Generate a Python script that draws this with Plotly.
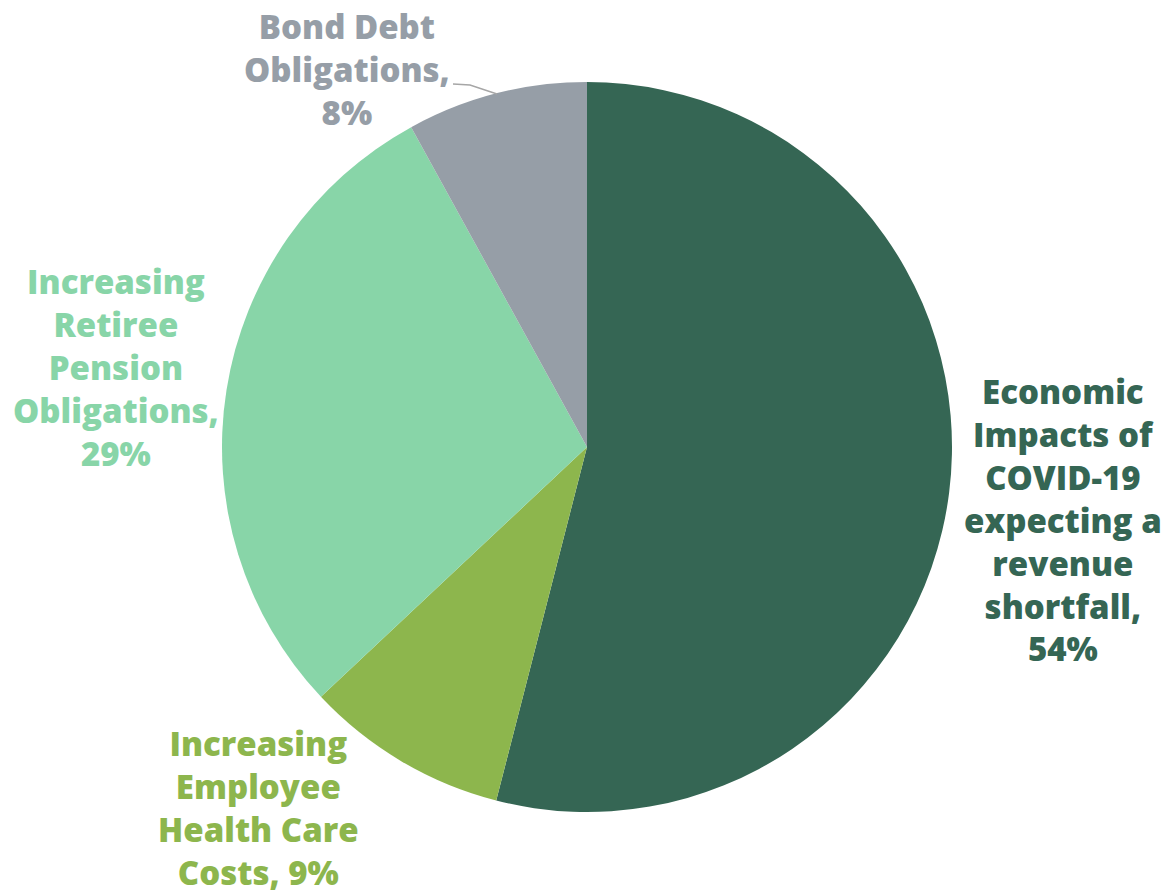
import plotly.graph_objects as go

# Budget pressure categories, clockwise from 12 o'clock
categories = [
    "Economic Impacts of COVID-19 expecting a revenue shortfall",
    "Increasing Employee Health Care Costs",
    "Increasing Retiree Pension Obligations",
    "Bond Debt Obligations",
]
shares = [54, 9, 29, 8]
colors = ["#356654", "#8DB64D", "#88D5A8", "#969EA7"]

# Wrapped label lines for each slice (value appended from shares)
label_lines = [
    ["Economic", "Impacts of", "COVID-19", "expecting a", "revenue", "shortfall,"],
    ["Increasing", "Employee", "Health Care", "Costs, {v}%"],
    ["Increasing", "Retiree", "Pension", "Obligations,"],
    ["Bond Debt", "Obligations,"],
]

W, H = 1174, 894
cx, cy, r = 587, 447, 365

fig = go.Figure(
    go.Pie(
        labels=categories,
        values=shares,
        sort=False,
        direction="clockwise",
        rotation=0,
        marker=dict(colors=colors, line=dict(width=0)),
        textinfo="none",
        hoverinfo="label+percent",
        showlegend=False,
        domain=dict(x=[(cx - r) / W, (cx + r) / W],
                    y=[(H - cy - r) / H, (H - cy + r) / H]),
    )
)

# Label anchor points (pixels) for each slice
label_pos = [(1063, 520), (258, 808), (116, 367), (347, 69)]

for lines, v, col, (px, py) in zip(label_lines, shares, colors, label_pos):
    if "{v}" in lines[-1]:
        txt_lines = lines[:-1] + [lines[-1].format(v=v)]
    else:
        txt_lines = lines + [f"{v}%"]
    fig.add_annotation(
        x=px / W, y=1 - py / H, xref="paper", yref="paper",
        text="<br>".join(txt_lines), showarrow=False,
        align="center", xanchor="center", yanchor="middle",
        font=dict(family="Open Sans", size=33, color=col, weight=800),
    )

# Leader line for the small top slice
fig.add_shape(
    type="path", xref="paper", yref="paper",
    path=f"M {453/W} {1-84/H} L {470/W} {1-85/H} L {497/W} {1-94/H}",
    line=dict(color="#A6A6A6", width=1.5),
)

fig.update_layout(
    width=W, height=H,
    margin=dict(l=0, r=0, t=0, b=0),
    paper_bgcolor="white", plot_bgcolor="white",
)

fig.write_html("out.html")
